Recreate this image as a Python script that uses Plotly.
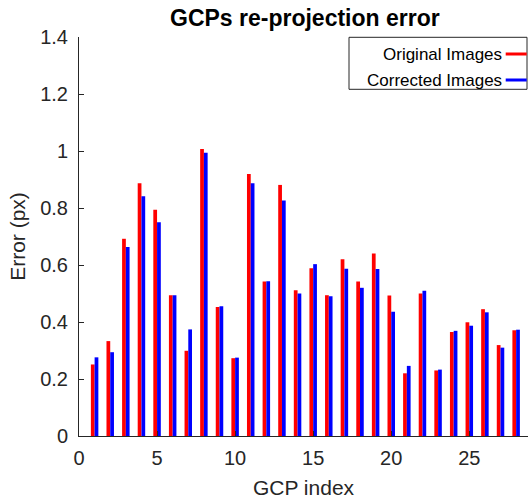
import plotly.graph_objects as go

# GCP re-projection error per ground control point
gcp_index = list(range(1, 29))
original_err = [0.251, 0.333, 0.692, 0.887, 0.794, 0.494, 0.299, 1.007, 0.453, 0.273,
                0.919, 0.542, 0.881, 0.511, 0.589, 0.494, 0.620, 0.542, 0.640, 0.493,
                0.220, 0.500, 0.230, 0.365, 0.399, 0.445, 0.319, 0.371]
corrected_err = [0.276, 0.294, 0.663, 0.841, 0.750, 0.494, 0.374, 0.994, 0.455, 0.275,
                 0.887, 0.543, 0.826, 0.500, 0.603, 0.490, 0.587, 0.520, 0.586, 0.436,
                 0.246, 0.510, 0.233, 0.369, 0.387, 0.434, 0.310, 0.373]
series_names = ["Original Images", "Corrected Images"]
series_colors = ["#ff0000", "#0000ff"]
y_ticks = [0, 0.2, 0.4, 0.6, 0.8, 1, 1.2, 1.4]
x_ticks = [0, 5, 10, 15, 20, 25]

FONT = "Liberation Sans, Arial, Helvetica, sans-serif"
INK = "#262626"

fig = go.Figure()
for name, vals, col in zip(series_names, [original_err, corrected_err], series_colors):
    fig.add_trace(go.Bar(x=gcp_index, y=vals, name=name, marker=dict(color=col, line=dict(width=0)),
                         showlegend=False))

W, H = 528, 499
L, T, B = 79, 37, 63
fig.update_layout(
    width=W, height=H,
    margin=dict(l=L, r=0, t=T, b=B),
    paper_bgcolor="white", plot_bgcolor="white",
    barmode="group", bargap=0.52, bargroupgap=0,
    font=dict(family=FONT, color=INK),
    title=dict(text="<b>GCPs re-projection error</b>", x=0.503, xref="paper", xanchor="center",
               y=1 - 18 / H, yanchor="middle", font=dict(size=23, color="black")),
)
fig.update_xaxes(range=[0, 28.76], tickvals=x_ticks, ticks="inside", ticklen=5, tickcolor=INK,
                 ticklabelstandoff=4,
                 showline=True, linecolor=INK, linewidth=1, showgrid=False, zeroline=False,
                 tickfont=dict(size=20, color=INK),
                 title=dict(text="GCP index", font=dict(size=21, color=INK), standoff=12))
fig.update_yaxes(range=[0, 1.4], tickvals=y_ticks, ticktext=[f"{v:g}" for v in y_ticks],
                 ticks="inside", ticklen=5, tickcolor=INK, ticklabelstandoff=6,
                 showline=True, linecolor=INK, linewidth=1, showgrid=False, zeroline=False,
                 tickfont=dict(size=20, color=INK),
                 title=dict(text="Error (px)", font=dict(size=21, color=INK), standoff=8))

# Legend box with right-hand line samples
pw, ph = W - L, H - T - B
px = lambda v: (v - L) / pw
py = lambda v: (H - B - v) / ph
fig.add_shape(type="rect", xref="paper", yref="paper", x0=px(349), x1=px(527), y0=py(89.3), y1=py(37.3),
              line=dict(color=INK, width=1), fillcolor="white", layer="above")
for i, (name, col) in enumerate(zip(series_names, series_colors)):
    yc = 54 + 26 * i
    fig.add_annotation(xref="paper", yref="paper", x=px(504), y=py(yc), text=name, showarrow=False,
                       xanchor="right", yanchor="middle", font=dict(size=17, color="black"))
    fig.add_shape(type="line", xref="paper", yref="paper", x0=px(505.7), x1=px(526.7), y0=py(yc), y1=py(yc),
                  line=dict(color=col, width=3), layer="above")

fig.write_html("out.html")
